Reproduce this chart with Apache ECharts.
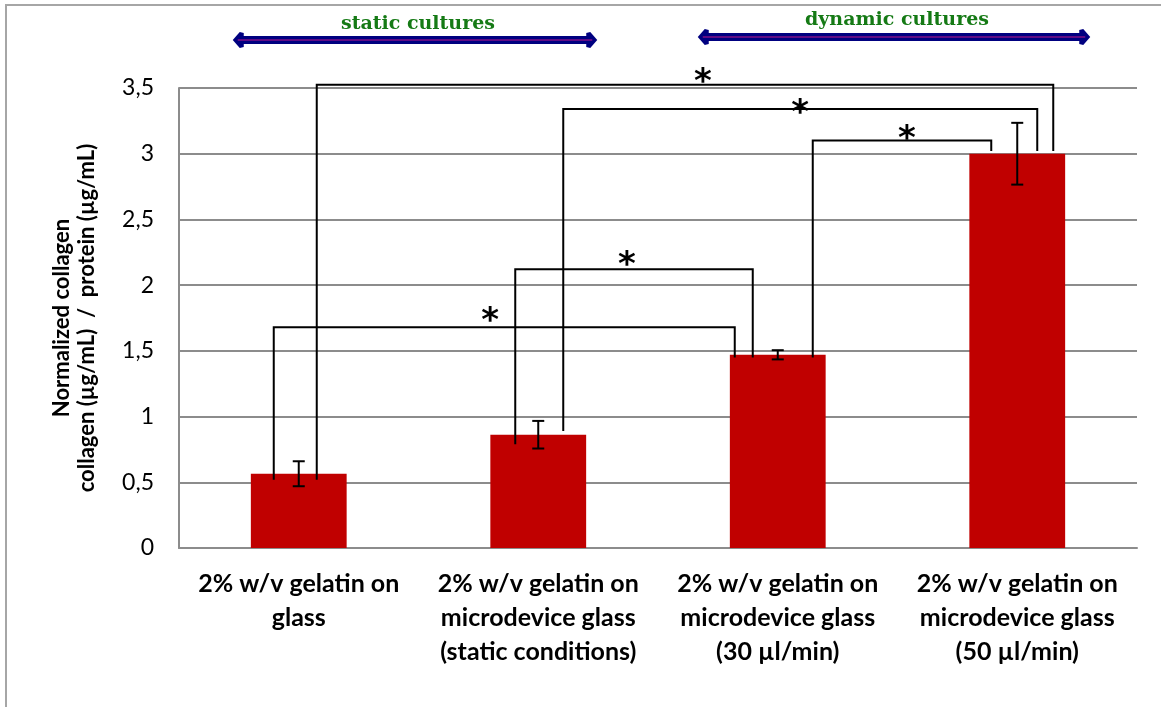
<!DOCTYPE html>
<html>
<head>
<meta charset="utf-8">
<script src="https://cdn.jsdelivr.net/npm/echarts@6/dist/echarts.min.js"></script>
<style>
  html, body { margin: 0; padding: 0; background: #fff; }
  #chart { width: 1161px; height: 707px; }
</style>
</head>
<body>
<div id="chart"></div>
<script>
// Culture conditions (x axis)
const categories = [
  '2% w/v gelatin on\nglass',
  '2% w/v gelatin on\nmicrodevice glass\n(static conditions)',
  '2% w/v gelatin on\nmicrodevice glass\n(30 µl/min)',
  '2% w/v gelatin on\nmicrodevice glass\n(50 µl/min)'
];
// Normalized collagen / protein ratio and its error
const collagenRatio = [0.565, 0.862, 1.47, 3.0];
const ratioError = [0.095, 0.105, 0.035, 0.235];
// Value axis tick labels (decimal comma)
const yTickLabels = ['0', '0,5', '1', '1,5', '2', '2,5', '3', '3,5'];
// Significance brackets: [from bar, to bar, bracket level, left foot level, right foot level]
const brackets = [
  [0, 2, 1.68, 0.52, 1.45],
  [1, 2, 2.12, 0.79, 1.45],
  [2, 3, 3.10, 1.45, 3.02],
  [1, 3, 3.34, 0.89, 3.02],
  [0, 3, 3.525, 0.52, 3.02]
];
// Culture groups shown with double arrows: [label, first bar, last bar]
const cultureGroups = [
  ['static cultures', 0, 1],
  ['dynamic cultures', 2, 3]
];

// Per bracket: left leg nudge, right leg nudge, star x shift, star y shift (px)
const bracketLegs = [
  [-25, -43, -14, -5],
  [-23, -25, -7, -3],
  [35, -26, 5, 0],
  [25, 20, 0, 5],
  [18, 36, 18, -2]
];
// Arrow ends relative to bar centres (px) and their vertical placement
const arrowLayout = [
  { left: -66, right: 59, y: 40, textY: 24 },
  { left: -80, right: 73, y: 37, textY: 20 }
];

const chart = echarts.init(document.getElementById('chart'), null, { renderer: 'canvas' });

function renderErrorBar(params, api) {
  const x = api.coord([api.value(0), 0])[0];
  const yLo = api.coord([0, api.value(1)])[1];
  const yHi = api.coord([0, api.value(2)])[1];
  const cap = 6;
  const st = { stroke: '#000', lineWidth: 2 };
  return {
    type: 'group',
    children: [
      { type: 'line', shape: { x1: x, y1: yLo, x2: x, y2: yHi }, style: st },
      { type: 'line', shape: { x1: x - cap, y1: yHi, x2: x + cap, y2: yHi }, style: st },
      { type: 'line', shape: { x1: x - cap, y1: yLo, x2: x + cap, y2: yLo }, style: st }
    ]
  };
}

function renderBracket(params, api) {
  const leg = bracketLegs[params.dataIndex];
  const xa = api.coord([api.value(0), 0])[0] + leg[0];
  const xb = api.coord([api.value(1), 0])[0] + leg[1];
  const yTop = api.coord([0, api.value(2)])[1];
  const yA = api.coord([0, api.value(3)])[1];
  const yB = api.coord([0, api.value(4)])[1];
  return {
    type: 'group',
    children: [
      {
        type: 'polyline',
        shape: { points: [[xa, yA], [xa, yTop], [xb, yTop], [xb, yB]] },
        style: { stroke: '#000', lineWidth: 2, fill: 'none' }
      },
      {
        type: 'text',
        x: (xa + xb) / 2 + leg[2],
        y: yTop + leg[3],
        style: {
          text: '*',
          font: 'bold 34px "DejaVu Sans"',
          fill: '#000',
          align: 'center', verticalAlign: 'middle',
          textAlign: 'center', textVerticalAlign: 'middle'
        }
      }
    ]
  };
}

function arrowHead(x, y, dir) {
  // pointed tip flaring back towards the shaft
  return [
    [x, y],
    [x + dir * 7, y - 8],
    [x + dir * 11, y - 7],
    [x + dir * 11, y + 7],
    [x + dir * 7, y + 8]
  ];
}

function renderGroupArrow(params, api) {
  const lay = arrowLayout[params.dataIndex];
  const x0 = api.coord([api.value(0), 0])[0] + lay.left;
  const x1 = api.coord([api.value(1), 0])[0] + lay.right;
  const y = lay.y;
  return {
    type: 'group',
    children: [
      { type: 'line', shape: { x1: x0 + 8, y1: y, x2: x1 - 8, y2: y }, style: { stroke: '#000080', lineWidth: 8 } },
      { type: 'polygon', shape: { points: arrowHead(x0, y, 1) }, style: { fill: '#000080' } },
      { type: 'polygon', shape: { points: arrowHead(x1, y, -1) }, style: { fill: '#000080' } },
      { type: 'line', shape: { x1: x0 + 5, y1: y, x2: x1 - 5, y2: y }, style: { stroke: '#c0188a', lineWidth: 1 } },
      {
        type: 'text',
        x: (x0 + x1) / 2 + 3,
        y: lay.textY,
        style: {
          text: cultureGroups[params.dataIndex][0],
          font: 'bold 19px "DejaVu Serif"',
          fill: '#157a15',
          align: 'center', verticalAlign: 'middle',
          textAlign: 'center', textVerticalAlign: 'middle'
        }
      }
    ]
  };
}

const option = {
  animation: false,
  backgroundColor: '#fff',
  grid: { left: 179, right: 24, top: 88, bottom: 159 },
  graphic: [
    {
      type: 'rect',
      shape: { x: 6, y: 5, width: 1200, height: 800 },
      style: { fill: 'none', stroke: '#a6a6a6', lineWidth: 2 },
      silent: true,
      z: -1
    }
  ],
  xAxis: {
    type: 'category',
    data: categories,
    axisTick: { show: false },
    axisLine: { lineStyle: { color: '#8c8c8c', width: 2 } },
    axisLabel: {
      interval: 0,
      margin: 19,
      color: '#000',
      fontFamily: 'Lato',
      fontWeight: 'bold',
      fontSize: 25,
      lineHeight: 34,
      verticalAlign: 'top'
    }
  },
  yAxis: {
    type: 'value',
    min: 0,
    max: 3.5,
    interval: 0.5,
    name: 'Normalized collagen\ncollagen (µg/mL)  /  protein (µg/mL)',
    nameLocation: 'middle',
    nameGap: 80,
    nameRotate: 90,
    nameTextStyle: {
      color: '#000',
      fontFamily: 'Lato',
      fontWeight: 'bold',
      fontSize: 22,
      lineHeight: 25,
      align: 'center'
    },
    axisLine: { show: true, lineStyle: { color: '#8c8c8c', width: 2 } },
    axisTick: { show: false },
    splitLine: { lineStyle: { color: '#8c8c8c', width: 2 } },
    axisLabel: {
      margin: 25,
      color: '#000',
      fontFamily: 'Lato',
      fontSize: 23,
      formatter: v => yTickLabels[Math.round(v / 0.5)]
    }
  },
  series: [
    {
      type: 'bar',
      data: collagenRatio,
      barWidth: '40%',
      itemStyle: { color: '#c00000' },
      z: 2
    },
    {
      type: 'custom',
      renderItem: renderErrorBar,
      data: collagenRatio.map((v, i) => [i, v - ratioError[i], v + ratioError[i]]),
      encode: { x: 0, y: [1, 2] },
      z: 3
    },
    {
      type: 'custom',
      renderItem: renderBracket,
      data: brackets,
      encode: { x: [0, 1], y: [2, 3, 4] },
      clip: false,
      z: 4
    },
    {
      type: 'custom',
      renderItem: renderGroupArrow,
      data: cultureGroups.map(g => [g[1], g[2], 0]),
      encode: { x: [0, 1], y: 2 },
      clip: false,
      z: 4
    }
  ]
};

chart.setOption(option);
</script>
</body>
</html>
